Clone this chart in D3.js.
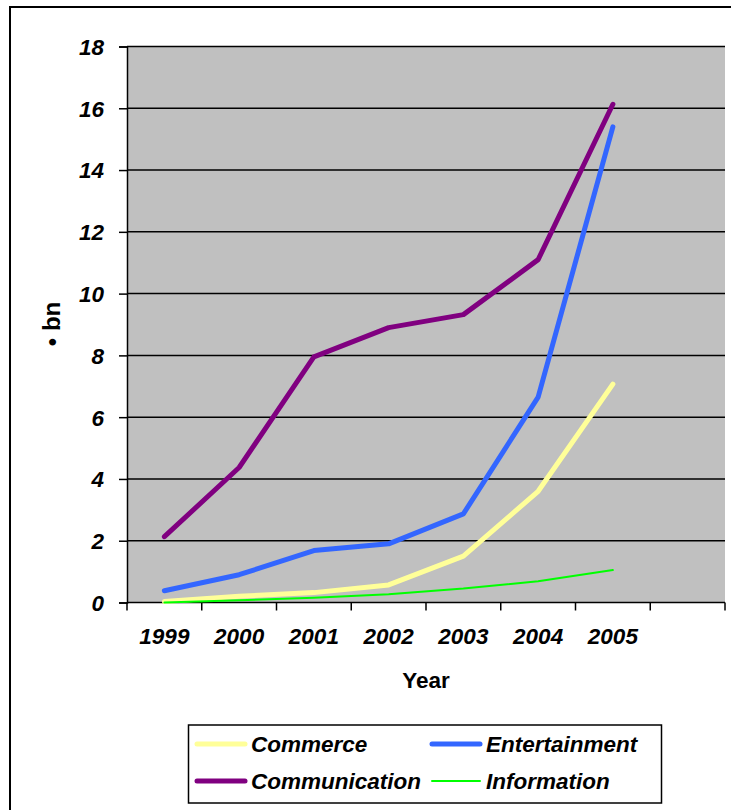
<!DOCTYPE html>
<html><head><meta charset="utf-8">
<script src="https://cdn.jsdelivr.net/npm/d3@7"></script>
<style>body{margin:0;background:#fff;} text{font-family:"Liberation Sans",Arial,sans-serif;}</style>
</head><body><svg id="c" width="731" height="810"></svg>
<script>
const years = ["1999","2000","2001","2002","2003","2004","2005"];
const commerce      = [0.03, 0.2, 0.32, 0.57, 1.5, 3.6, 7.07];
const entertainment = [0.38, 0.9, 1.68, 1.9, 2.87, 6.65, 15.4];
const communication = [2.13, 4.37, 7.95, 8.9, 9.32, 11.1, 16.13];
const information   = [0.0, 0.07, 0.15, 0.27, 0.45, 0.69, 1.05];
const yTicks = [0,2,4,6,8,10,12,14,16,18];
const seriesNames = ["Commerce","Entertainment","Communication","Information"];
const seriesColors = ["#FFFF99","#3366FF","#800080","#00FF00"];
const seriesWidths = [5,5,5,2];

const series = [commerce, entertainment, communication, information].map((v,i)=>({
  name: seriesNames[i], values: v, color: seriesColors[i], width: seriesWidths[i]}));

const svg = d3.select("#c");
const L=127, R=725, T=46.5, B=602.5;
const FS = 22.5;

// outer border
svg.append("rect").attr("x",10).attr("y",7).attr("width",760).attr("height",840)
  .attr("fill","none").attr("stroke","#000").attr("stroke-width",2);

const x = d3.scaleBand().domain(years.concat(["_"])).range([L,R]).padding(0);
const y = d3.scaleLinear().domain([0,18]).range([B,T]);

svg.append("rect").attr("x",L).attr("y",T).attr("width",R-L).attr("height",B-T).attr("fill","#C0C0C0");

// gridlines
svg.append("g").selectAll("line").data(yTicks.filter(d=>d>0)).join("line")
  .attr("x1",L).attr("x2",R).attr("y1",d=>y(d)).attr("y2",d=>y(d))
  .attr("stroke","#000").attr("stroke-width",1.5);

// y axis
const yAxis = svg.append("g").attr("transform",`translate(${L},0)`)
  .call(d3.axisLeft(y).tickValues(yTicks).tickSize(8).tickPadding(15).tickFormat(d3.format("d")));
yAxis.select(".domain").attr("stroke","#000").attr("stroke-width",1.5);
yAxis.selectAll(".tick line").attr("stroke","#000").attr("stroke-width",1.5);
yAxis.selectAll("text").attr("font-size",FS).attr("font-weight","bold").attr("font-style","italic")
  .attr("font-family","'Liberation Sans',Arial,sans-serif").attr("fill","#000").attr("dy","0.35em");

// x axis: ticks at band edges
const edges = x.domain().map(d=>x(d)).concat([R]);
const xg = svg.append("g");
xg.append("line").attr("x1",L).attr("x2",R).attr("y1",B).attr("y2",B).attr("stroke","#000").attr("stroke-width",1.5);
xg.selectAll("line.t").data(edges).join("line").attr("class","t")
  .attr("x1",d=>d).attr("x2",d=>d).attr("y1",B).attr("y2",B+8).attr("stroke","#000").attr("stroke-width",1.5);
xg.selectAll("text").data(years).join("text")
  .attr("x",d=>x(d)+x.bandwidth()/2).attr("y",644).attr("text-anchor","middle")
  .attr("font-size",FS).attr("font-weight","bold").attr("font-style","italic").text(d=>d);

// axis titles
svg.append("text").attr("x",426).attr("y",688).attr("text-anchor","middle")
  .attr("font-size",FS).attr("font-weight","bold").text("Year");
svg.append("text").attr("transform","translate(60,324) rotate(-90)").attr("text-anchor","middle")
  .attr("font-size",24).attr("font-weight","bold").text("\u2022 bn");

// lines
const line = d3.line().x((d,i)=>x(years[i])+x.bandwidth()/2).y(d=>y(d));
svg.append("g").selectAll("path").data(series).join("path")
  .attr("d",d=>line(d.values)).attr("fill","none").attr("stroke",d=>d.color)
  .attr("stroke-width",d=>d.width).attr("stroke-linejoin","round").attr("stroke-linecap","round");

// legend
const lg = svg.append("g");
lg.append("rect").attr("x",188.5).attr("y",725).attr("width",473).attr("height",78)
  .attr("fill","#fff").attr("stroke","#000").attr("stroke-width",1.5);
const legPos = [[197,744],[432,744],[197,781],[432,781]];
series.forEach((s,i)=>{
  const [lx,ly]=legPos[i];
  lg.append("line").attr("x1",lx).attr("x2",lx+48).attr("y1",ly).attr("y2",ly)
    .attr("stroke",s.color).attr("stroke-width",s.width).attr("stroke-linecap","round");
  lg.append("text").attr("x",lx+54).attr("y",ly+8).attr("font-size",FS).attr("font-weight","bold")
    .attr("font-style","italic").text(s.name);
});
</script></body></html>
